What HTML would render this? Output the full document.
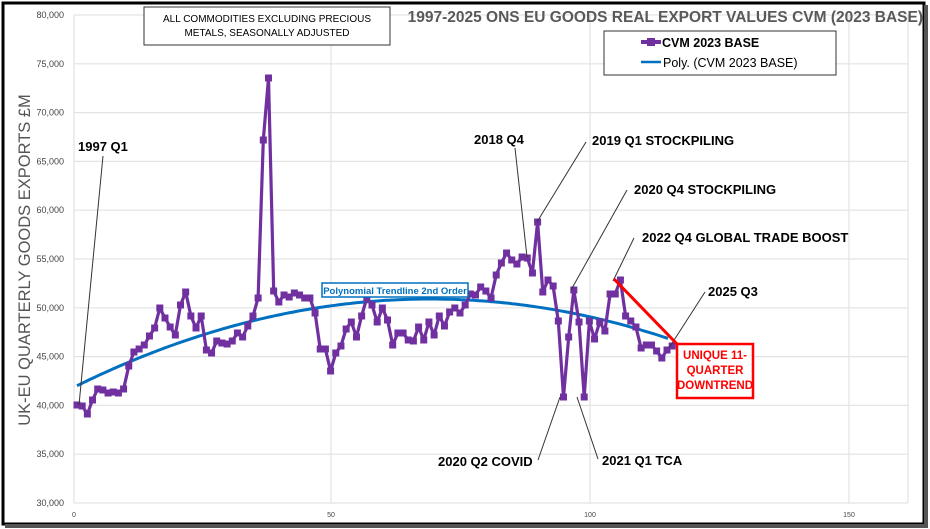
<!DOCTYPE html>
<html><head><meta charset="utf-8"><style>
body{margin:0;background:#fff;}
svg{display:block;font-family:"Liberation Sans",sans-serif;}
</style></head><body>
<svg id="s" width="930" height="529" viewBox="0 0 930 529">
<rect x="0" y="0" width="930" height="529" fill="#fff"/>
<rect x="3" y="3" width="921" height="521" fill="none" stroke="#000" stroke-width="3"/>
<rect x="924" y="5" width="4" height="521" fill="#555"/>
<rect x="5" y="524" width="923" height="4" fill="#555"/>
<g id="grid" stroke="#e3e3e3" stroke-width="1.2"></g>
<g font-size="9" fill="#444" text-anchor="end" id="yl"></g>
<g font-size="7" fill="#444" text-anchor="middle">
<text x="74" y="517">0</text><text x="331" y="517">50</text><text x="590" y="517">100</text><text x="849" y="517">150</text></g>
<text transform="translate(30,260) rotate(-90)" text-anchor="middle" font-size="16.5" fill="#555">UK-EU QUARTERLY GOODS EXPORTS £M</text>
<text x="923" y="22" text-anchor="end" font-size="15.5" font-weight="bold" fill="#595959">1997-2025 ONS EU GOODS REAL EXPORT VALUES CVM (2023 BASE)</text>
<rect x="144" y="7" width="246" height="38" fill="#fff" stroke="#333"/>
<text x="267" y="22" text-anchor="middle" font-size="10" fill="#000">ALL COMMODITIES EXCLUDING PRECIOUS</text>
<text x="267" y="36" text-anchor="middle" font-size="10" fill="#000">METALS, SEASONALLY ADJUSTED</text>
<rect x="604" y="31" width="232" height="44" fill="#fff" stroke="#333"/>
<line x1="641" y1="42" x2="661" y2="42" stroke="#7030a0" stroke-width="4"/><rect x="647" y="38" width="8" height="8" fill="#7030a0"/>
<text x="662" y="47" font-size="12.5" font-weight="bold" fill="#000">CVM 2023 BASE</text>
<line x1="641" y1="62" x2="661" y2="62" stroke="#0070c0" stroke-width="2.5"/>
<text x="663" y="67" font-size="12.5" fill="#000">Poly. (CVM 2023 BASE)</text>
<polyline id="tr" fill="none" stroke="#0070c0" stroke-width="3"/>
<polyline id="pl" fill="none" stroke="#7030a0" stroke-width="3.2" stroke-linejoin="round"/>
<g id="mk" fill="#7030a0"></g>
<rect x="322" y="283" width="146" height="14" fill="#fff" stroke="#0070c0" stroke-width="1.5"/>
<text x="395" y="294" text-anchor="middle" font-size="9.5" font-weight="bold" fill="#0070c0">Polynomial Trendline 2nd Order</text>
<g stroke="#333" stroke-width="1" fill="none">
<line x1="103" y1="156" x2="79" y2="405"/>
<line x1="515" y1="148" x2="527" y2="257"/>
<line x1="586" y1="142" x2="537" y2="222"/>
<line x1="627" y1="190" x2="571" y2="290"/>
<line x1="634" y1="238" x2="613" y2="281"/>
<line x1="705" y1="292" x2="669" y2="348"/>
<line x1="538" y1="460" x2="560" y2="397"/>
<line x1="598" y1="459" x2="577" y2="397"/>
</g>
<line x1="614" y1="279" x2="677" y2="344" stroke="#f00" stroke-width="3"/>
<rect x="677" y="344" width="76" height="54" fill="#fff" stroke="#f00" stroke-width="2.5"/>
<g font-size="11.5" font-weight="bold" fill="#f00" text-anchor="middle">
<text x="715" y="359">UNIQUE 11-</text><text x="715" y="374">QUARTER</text><text x="715" y="389">DOWNTREND</text></g>
<g font-size="13" font-weight="bold" fill="#000">
<text x="78" y="151">1997 Q1</text>
<text x="474" y="144">2018 Q4</text>
<text x="592" y="145">2019 Q1 STOCKPILING</text>
<text x="634" y="194">2020 Q4 STOCKPILING</text>
<text x="642" y="242">2022 Q4 GLOBAL TRADE BOOST</text>
<text x="708" y="296">2025 Q3</text>
<text x="438" y="466">2020 Q2 COVID</text>
<text x="602" y="465">2021 Q1 TCA</text>
</g>
</svg>
<script>
var ns="http://www.w3.org/2000/svg";
var g=document.getElementById('grid'),yl=document.getElementById('yl');
for(var v=30000;v<=80000;v+=5000){var y=503-(v-30000)*0.00976;
var l=document.createElementNS(ns,'line');l.setAttribute('x1',74);l.setAttribute('x2',908);l.setAttribute('y1',y);l.setAttribute('y2',y);g.appendChild(l);
var t=document.createElementNS(ns,'text');t.setAttribute('x',64);t.setAttribute('y',y+3);t.textContent=v.toLocaleString('en-US');yl.appendChild(t);}
[74,331,590,849,908].forEach(function(x){var l=document.createElementNS(ns,'line');l.setAttribute('x1',x);l.setAttribute('x2',x);l.setAttribute('y1',15);l.setAttribute('y2',503);g.appendChild(l);});
var tp=[];for(var x=77;x<=668;x+=3){tp.push(x+','+(299+0.000696*(x-430)*(x-430)).toFixed(1));}
document.getElementById('tr').setAttribute('points',tp.join(' '));
var Y=[405,406,414,400,389,390,393,392,393,389,366,352,349,345,336,328,308,318,327,335,305,292,316,328,316,350,353,341,343,344,341,333,337,326,316,298,140,78,291,302,295,297,293,295,298,298,313,349,349,371,353,346,329,322,337,316,298,305,322,308,320,345,333,333,340,341,327,340,322,335,316,326,312,308,313,305,294,295,287,291,298,275,263,253,260,264,257,258,273,222,292,280,286,321,397,337,290,322,397,321,339,322,331,294,294,280,316,321,327,348,345,345,351,358,350,346];
var pts=[],mk=document.getElementById('mk');
for(var i=0;i<Y.length;i++){var x=77+i*(590/114);pts.push(x.toFixed(1)+','+Y[i]);
var r=document.createElementNS(ns,'rect');r.setAttribute('x',x-3.5);r.setAttribute('y',Y[i]-3.5);r.setAttribute('width',7);r.setAttribute('height',7);mk.appendChild(r);}
document.getElementById('pl').setAttribute('points',pts.join(' '));
</script>
</body></html>
